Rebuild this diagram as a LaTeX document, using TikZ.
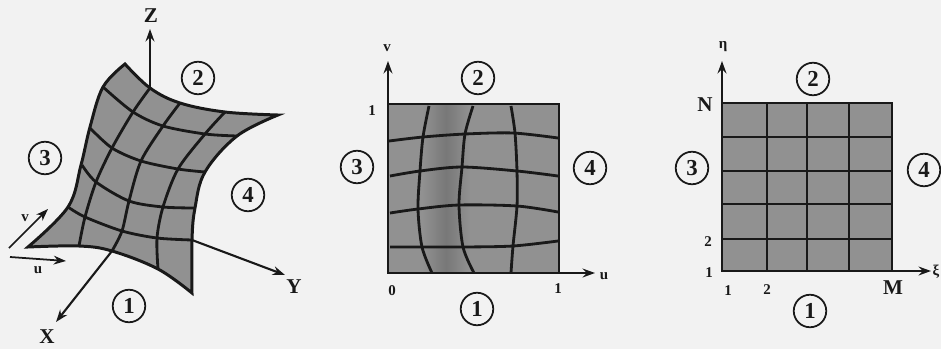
\documentclass[tikz,border=0pt]{standalone}
\usepackage{fontspec}
\setmainfont{Liberation Serif}
\usetikzlibrary{arrows.meta,positioning}
\definecolor{paper}{gray}{0.95}
\definecolor{patch}{gray}{0.57}
\definecolor{patchdark}{gray}{0.47}
\definecolor{ink}{gray}{0.1}
\tikzset{
  axis/.style={draw=ink,line width=1.2pt,-{Stealth[length=7pt,width=5pt]}},
  grid/.style={draw=ink,line width=1.6pt},
  frame/.style={draw=ink,line width=1.7pt,fill=patch},
  region/.style={circle,draw=ink,line width=1pt,minimum size=18.5pt,inner sep=0pt,text=ink,font=\bfseries\fontsize{13}{13}\selectfont},
  big/.style={inner sep=0pt,text=ink,font=\bfseries\fontsize{12}{12}\selectfont},
  small/.style={inner sep=0pt,text=ink,font=\bfseries\fontsize{8.5}{9}\selectfont}
}
\begin{document}
\begin{tikzpicture}[x=0.02cm,y=-0.02cm]
  \useasboundingbox[fill=paper] (0,0) rectangle (941,349);
  % surface
  \coordinate (zfoot) at (150,88);
  \coordinate (ztip) at (150,29);
  \coordinate (xfoot) at (112,251);
  \coordinate (xtip) at (56,322);
  \coordinate (yfoot) at (192,240);
  \coordinate (ytip) at (285,275);
  \draw[axis] (zfoot) -- (ztip);
  \draw[axis] (xfoot) -- (xtip);
  \draw[axis] (yfoot) -- (ytip);
  \draw[frame] plot[smooth,tension=0.6] coordinates {(125,64) (150,88) (180,103) (225,112) (278,115)}
    -- plot[smooth,tension=0.6] coordinates {(278,115) (237,136) (205,172) (195,208) (192,240) (192,293)}
    -- plot[smooth,tension=0.6] coordinates {(192,293) (158,269) (112,251) (79,246) (28,247)}
    -- plot[smooth,tension=0.6] coordinates {(28,247) (68,207) (81,165) (90,127) (103,87) (125,64)} -- cycle;
  \draw[grid] plot[smooth] coordinates {(103,87) (133,112) (163,126) (205,134) (237,136)};
  \draw[grid] plot[smooth] coordinates {(90,128) (112,148) (141,161) (178,169) (205,172)};
  \draw[grid] plot[smooth] coordinates {(82,165) (96,182) (129,201) (163,207) (195,208)};
  \draw[grid] plot[smooth] coordinates {(68,207) (85,217) (122,231) (157,238) (192,240)};
  \draw[grid] plot[smooth] coordinates {(150,88) (133,112) (112,148) (96,182) (85,217) (79,246)};
  \draw[grid] plot[smooth] coordinates {(180,103) (163,126) (141,161) (129,201) (122,231) (112,251)};
  \draw[grid] plot[smooth] coordinates {(225,112) (205,134) (178,169) (163,207) (157,238) (158,269)};
  \coordinate (vtail) at (9,248);
  \coordinate (vtip) at (48,209);
  \coordinate (utail) at (10,257);
  \coordinate (utip) at (66,261);
  \draw[axis,line width=1pt] (vtail) -- (vtip);
  \draw[axis,line width=1pt] (utail) -- (utip);
  \node[big] (zlab) at (151,16) {Z};
  \node[big] (xlab) at (47,337) {X};
  \node[big] (ylab) at (294,287) {Y};
  \node[small] (vlab) at (25,218) {v};
  \node[small] (ulab) at (38,270) {u};
  \node[region] (sone) at (129,306) {1};
  \node[region] (stwo) at (198,78) {2};
  \node[region] (sthree) at (45,158) {3};
  \node[region] (sfour) at (248,195) {4};
  % unit square
  \coordinate (uo) at (388,273);
  \coordinate (uv) at (388,61);
  \coordinate (uu) at (595,273);
  \fill[patch] (388,104) rectangle (559,273);
  \shade[left color=patch,right color=patch,middle color=patchdark] (422,104) rectangle (470,273);
  \draw[draw=ink,line width=1.7pt] (388,104) rectangle (559,273);
  \draw[axis] (uo) -- (uv);
  \draw[axis] (uo) -- (uu);
  \draw[grid] plot[smooth] coordinates {(389,141) (423,137) (465,134) (513,133) (558,138)};
  \draw[grid] plot[smooth] coordinates {(390,176) (420,171) (462,167) (517,171) (558,176)};
  \draw[grid] plot[smooth] coordinates {(390,213) (418,209) (459,205) (517,206) (558,212)};
  \draw[grid] plot[smooth] coordinates {(390,247) (422,247) (463,247) (513,246) (558,241)};
  \draw[grid] plot[smooth] coordinates {(429,106) (423,137) (420,171) (418,209) (422,247) (432,273)};
  \draw[grid] plot[smooth] coordinates {(473,106) (465,134) (462,167) (459,205) (463,247) (474,273)};
  \draw[grid] plot[smooth] coordinates {(511,106) (515,133) (517,171) (517,206) (513,246) (511,273)};
  \node[small] (ulabv) at (387,48) {v};
  \node[small] (ulabu) at (604,276) {u};
  \node[small] (utop) at (372,111) {1};
  \node[small] (uzero) at (392,291) {0};
  \node[small] (uone) at (558,289) {1};
  \node[region] (uregone) at (477,309) {1};
  \node[region] (uregtwo) at (478,78) {2};
  \node[region] (uregthree) at (357,167) {3};
  \node[region] (uregfour) at (590,168) {4};
  % index square
  \coordinate (io) at (722,271);
  \coordinate (ietatip) at (722,61);
  \coordinate (ixitip) at (931,271);
  \draw[frame] (722,103) rectangle (892,271);
  \draw[axis] (io) -- (ietatip);
  \draw[axis] (io) -- (ixitip);
  \foreach \x in {767,807,849}
    \draw[grid] (\x,103) -- (\x,271);
  \foreach \y in {137,171,204,239}
    \draw[grid] (722,\y) -- (892,\y);
  \node[small] (ietalab) at (723,47) {η};
  \node[small] (ixilab) at (936,272) {ξ};
  \node[big] (inn) at (705,105) {N};
  \node[big] (imm) at (893,288) {M};
  \node[small] (itwo) at (708,242) {2};
  \node[small] (ione) at (709,273) {1};
  \node[small] (jone) at (728,291) {1};
  \node[small] (jtwo) at (767,290) {2};
  \node[region] (iregone) at (810,311) {1};
  \node[region] (iregtwo) at (813,79) {2};
  \node[region] (iregthree) at (692,168) {3};
  \node[region] (iregfour) at (924,170) {4};
\end{tikzpicture}
\end{document}
